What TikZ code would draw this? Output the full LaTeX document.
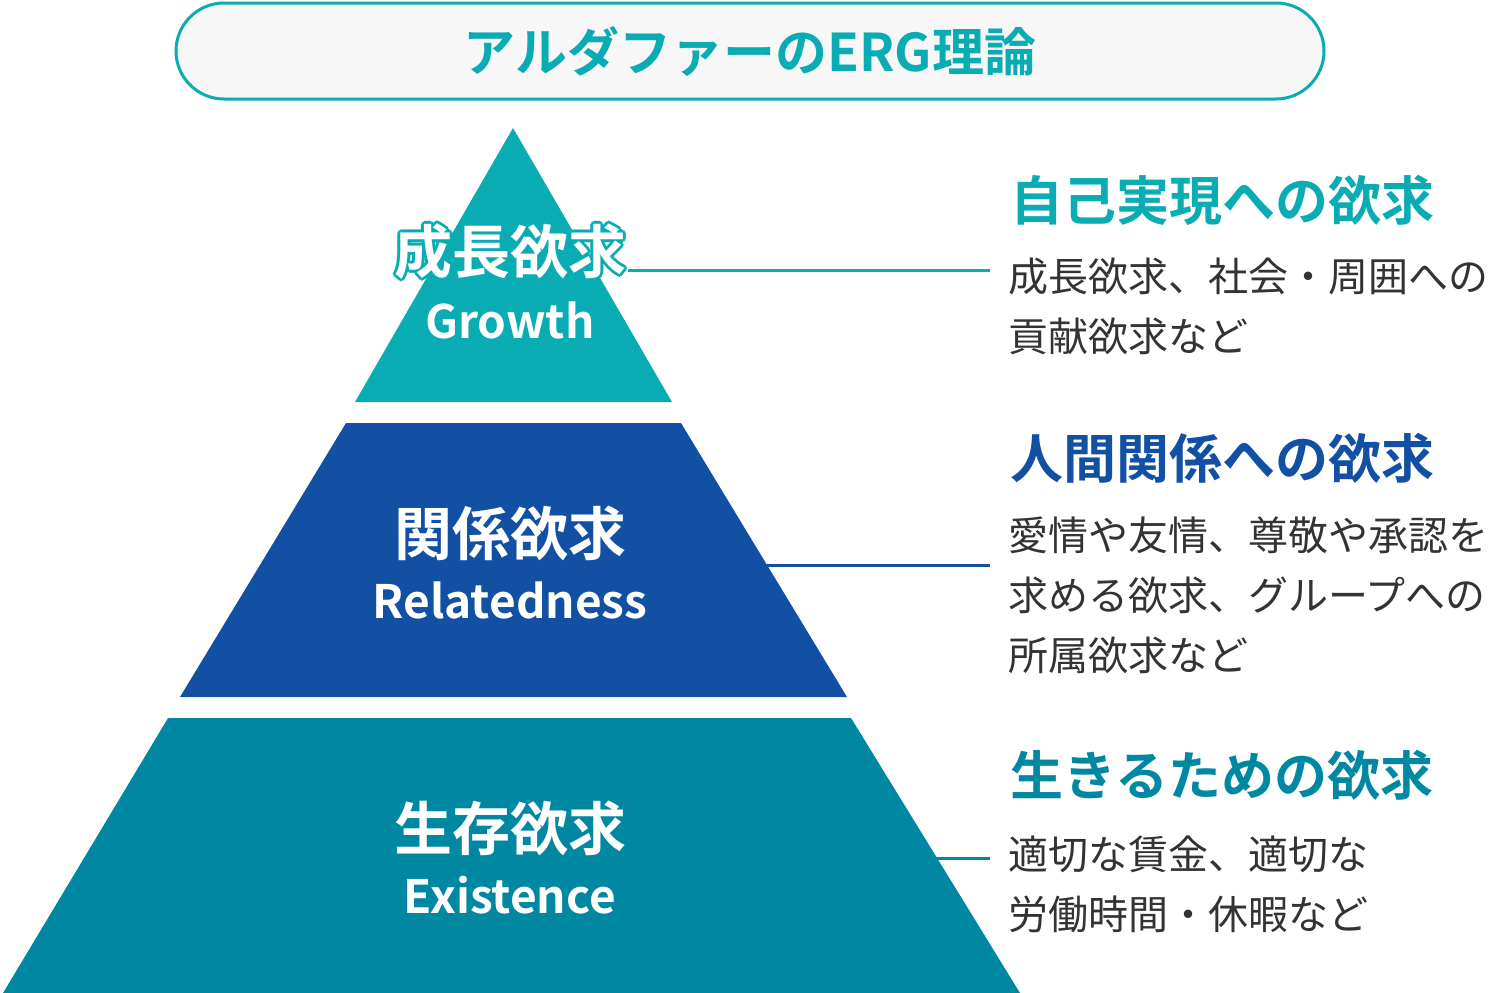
\documentclass[tikz,border=0pt]{standalone}
\usepackage{fontspec}
\newfontfamily\jp{Noto Sans CJK JP}
\newfontfamily\jpb{Noto Sans CJK JP Bold}
\usetikzlibrary{positioning}
\definecolor{tealA}{HTML}{0AACB4}
\definecolor{blueB}{HTML}{1150A3}
\definecolor{tealC}{HTML}{0088A3}
\definecolor{txt}{HTML}{333333}
\tikzset{
    levelname/.style={text=white, font=\jpb\fontsize{58}{64}\selectfont, inner sep=0},
    levelsub/.style={text=white, font=\jpb\fontsize{46}{52}\selectfont, inner sep=0},
    head/.style={anchor=west, font=\jpb\fontsize{53}{60}\selectfont, inner sep=0},
    body/.style={anchor=west, text=txt, font=\jp\fontsize{40}{60}\selectfont, align=left, inner sep=0},
    link/.style={line width=3pt}
}
\begin{document}
\begin{tikzpicture}[x=1pt,y=-1pt]
\useasboundingbox (0,0) rectangle (1500,993);

% title
\node[draw=tealA, line width=3pt, fill=black!3, rounded corners=48pt,
      minimum width=1148pt, minimum height=96pt, inner sep=0,
      text=tealA, font=\jpb\fontsize{52}{58}\selectfont] (title) at (750,51) {アルダファーのERG理論};

% pyramid
\fill[tealA] (513,128) -- (672,402) -- (355,402) -- cycle;
\fill[blueB] (346,423) -- (681,423) -- (847,697) -- (180,697) -- cycle;
\fill[tealC] (168,718) -- (851,718) -- (1020,993) -- (3,993) -- cycle;

% level labels
\foreach \dx/\dy in {-3/0,3/0,0/-3,0/3,-2/-2,2/2,-2/2,2/-2}
    \node[levelname, text=tealA] at (510+\dx,252+\dy) {成長欲求};
\node[levelname] (growth) at (510,252) {成長欲求};
\node[levelsub] (growthsub) at (510,320) {Growth};
\node[levelname] (related) at (510,533) {関係欲求};
\node[levelsub] (relatedsub) at (510,600) {Relatedness};
\node[levelname] (exist) at (510,828) {生存欲求};
\node[levelsub] (existsub) at (510,895) {Existence};

% descriptions
\node[head, text=tealA] (h1) at (1010,200) {自己実現への欲求};
\node[body] (b1) at (1008,306) {成長欲求、社会・周囲への\\貢献欲求など};
\node[head, text=blueB] (h2) at (1010,458) {人間関係への欲求};
\node[body] (b2) at (1008,595) {愛情や友情、尊敬や承認を\\求める欲求、グループへの\\所属欲求など};
\node[head, text=tealC] (h3) at (1010,775) {生きるための欲求};
\node[body] (b3) at (1008,884) {適切な賃金、適切な\\労働時間・休暇など};

% connectors
\coordinate (g1) at (628,270);
\coordinate (r1) at (765,565);
\coordinate (e1) at (935,858);
\coordinate (g2) at (990,270);
\coordinate (r2) at (990,565);
\coordinate (e2) at (990,858);
\draw[link, tealA] (g1) -- (g2);
\draw[link, blueB] (r1) -- (r2);
\draw[link, tealC] (e1) -- (e2);
\end{tikzpicture}
\end{document}
